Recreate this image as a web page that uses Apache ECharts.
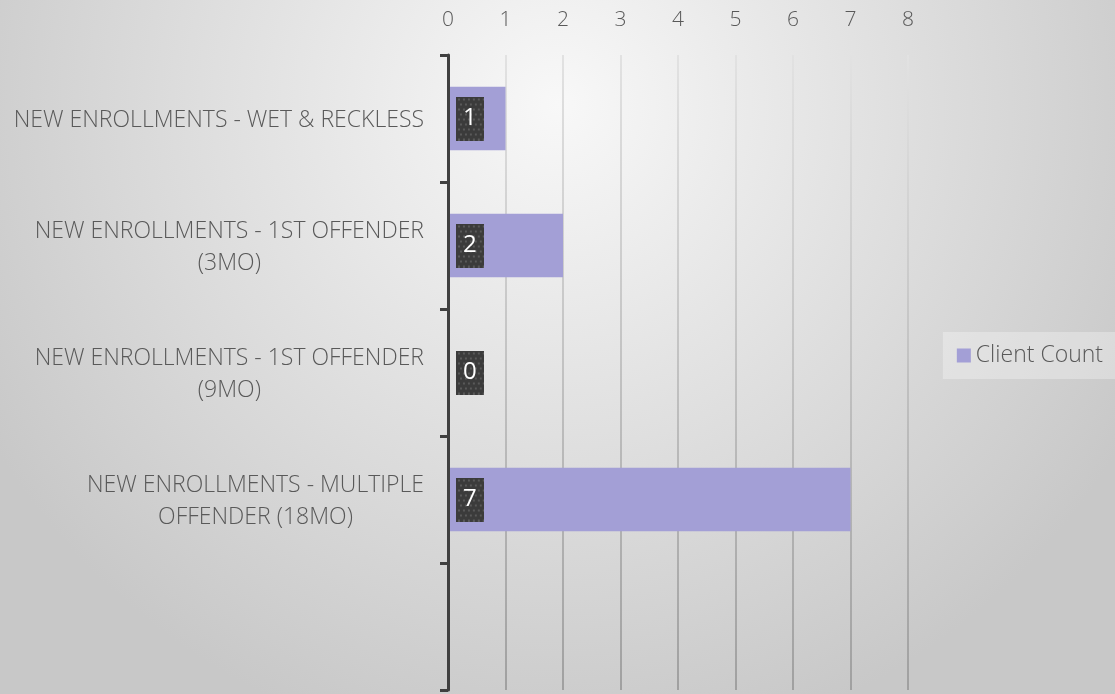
<!DOCTYPE html>
<html>
<head>
<meta charset="utf-8">
<script src="https://cdn.jsdelivr.net/npm/echarts@6/dist/echarts.min.js"></script>
<style>
html,body{margin:0;padding:0;}
#chart{width:1115px;height:694px;}
</style>
</head>
<body>
<div id="chart"></div>
<script>
var categories = [
  'NEW ENROLLMENTS - WET & RECKLESS',
  'NEW ENROLLMENTS - 1ST OFFENDER\n(3MO)',
  'NEW ENROLLMENTS - 1ST OFFENDER\n(9MO)',
  'NEW ENROLLMENTS - MULTIPLE\nOFFENDER (18MO)',
  ''
];
var clientCount = [1, 2, 0, 7, '-'];
var seriesName = 'Client Count';
var xTicks = [0, 8, 1]; // min, max, interval

// dotted dark background for the data labels
var pat = document.createElement('canvas');
pat.width = 28; pat.height = 44;
var pc = pat.getContext('2d');
pc.fillStyle = '#3b3b3b'; pc.fillRect(0, 0, 28, 44);
pc.fillStyle = '#595959';
for (var py = 2; py < 44; py += 5) {
  for (var px = (py % 10 === 2 ? 2 : 4); px < 28; px += 5) { pc.fillRect(px, py, 2, 2); }
}

var FONT = '"Open Sans", "Segoe UI", sans-serif';
var chart = echarts.init(document.getElementById('chart'));
chart.setOption({
  backgroundColor: {
    type: 'radial', x: 0.5, y: 0.15, r: 0.95,
    colorStops: [
      {offset: 0, color: '#f8f8f8'},
      {offset: 1, color: '#c8c8c8'}
    ]
  },
  animation: false,
  textStyle: {fontFamily: FONT},
  grid: {left: 448, right: 207, top: 55, bottom: 4, containLabel: false},
  legend: {
    data: [seriesName],
    right: 0, top: 332,
    orient: 'vertical',
    backgroundColor: 'rgba(255,255,255,0.3)',
    padding: [12, 12, 12, 14],
    icon: 'rect', itemWidth: 14, itemHeight: 14, itemGap: 6,
    textStyle: {fontSize: 23, color: '#595959', fontWeight: 300, fontFamily: FONT}
  },
  xAxis: {
    type: 'value', position: 'top',
    min: xTicks[0], max: xTicks[1], interval: xTicks[2],
    axisLine: {show: false}, axisTick: {show: false},
    axisLabel: {fontSize: 21, color: '#595959', fontWeight: 300, margin: 24, fontFamily: FONT},
    splitLine: {show: true, lineStyle: {width: 2, color: {
      type: 'linear', x: 0, y: 0, x2: 0, y2: 1,
      colorStops: [{offset: 0, color: '#e2e2e2'}, {offset: 1, color: '#a0a0a0'}]
    }}}
  },
  yAxis: {
    type: 'category', inverse: true, data: categories, z: 5,
    axisLine: {show: true, lineStyle: {color: '#404040', width: 3}},
    axisTick: {show: true, length: 8, lineStyle: {color: '#404040', width: 3}},
    splitLine: {show: false},
    axisLabel: {
      margin: 24, fontSize: 23, color: '#595959', fontWeight: 300, fontFamily: FONT,
      lineHeight: 32, padding: [4, 0, 0, 0],
      formatter: function (v) {
        if (!v) return '';
        return v.split('\n').map(function (s) { return '{c|' + s + '}'; }).join('\n');
      },
      rich: {c: {align: 'center', fontSize: 23, color: '#595959', fontWeight: 300, fontFamily: FONT, lineHeight: 32}}
    }
  },
  series: [{
    name: seriesName, type: 'bar', data: clientCount, barWidth: '50%', z: 2,
    itemStyle: {color: '#a39fd6'},
    label: {
      show: true, position: 'insideLeft', distance: 8,
      color: '#ffffff', fontSize: 24, fontFamily: FONT,
      backgroundColor: {image: pat}, padding: [7, 7, 5, 7], lineHeight: 32,
      shadowColor: 'rgba(0,0,0,0.45)', shadowBlur: 6, shadowOffsetX: 3, shadowOffsetY: 3
    }
  }]
});
</script>
</body>
</html>
